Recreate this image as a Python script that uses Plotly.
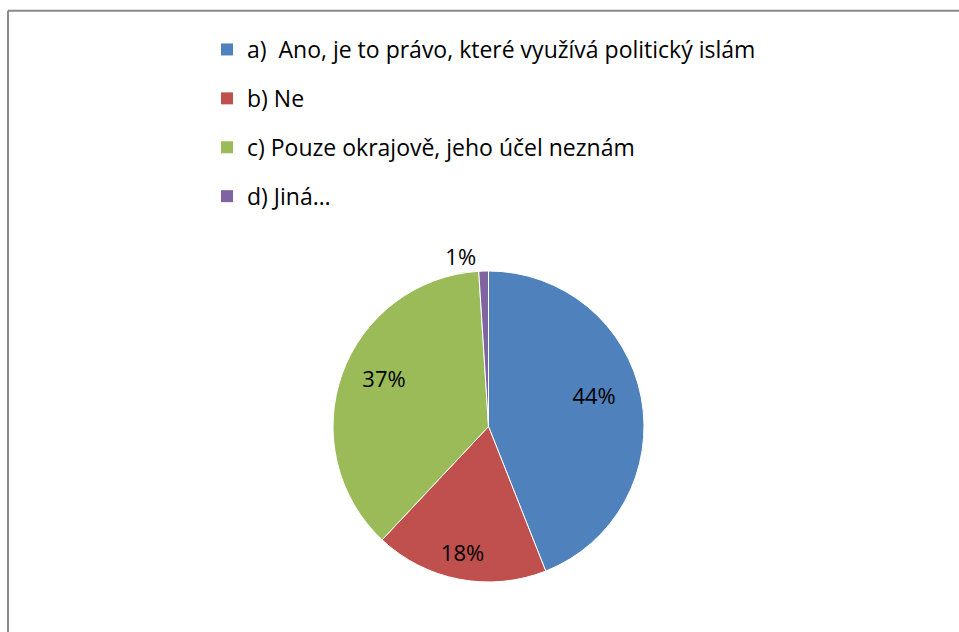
import plotly.graph_objects as go

# survey answers and their shares (%)
labels = [
    "a)  Ano, je to právo, které využívá politický islám",
    "b) Ne",
    "c) Pouze okrajově, jeho účel neznám",
    "d) Jiná…",
]
values = [44, 18, 37, 1]
colors = ["#4F81BD", "#C0504D", "#9BBB59", "#8064A2"]
inside_label = [True, True, True, False]

W, H = 959, 632
FONT = "Open Sans, Calibri, Carlito, sans-serif"
FS = 22
LFS = 23

cx, cy, r = 488.5, 426.5, 155.5   # pie centre / radius in pixels
lcy = 415.5                         # centre of the label ring (text sits a bit higher)


def dom(x0, y0, rad):
    return dict(x=[(x0 - rad) / W, (x0 + rad) / W], y=[1 - (y0 + rad) / H, 1 - (y0 - rad) / H])


fig = go.Figure()

# the coloured pie, carries the small outside label
fig.add_trace(go.Pie(
    labels=labels, values=values, sort=False, direction="clockwise", rotation=0,
    marker=dict(colors=colors, line=dict(color="white", width=1)),
    texttemplate="%{percent:.0%}",
    textposition=["none" if s else "outside" for s in inside_label],
    textfont=dict(family=FONT, size=FS, color="black"),
    showlegend=False, hoverinfo="label+percent",
    domain=dom(cx, cy, r),
))

# transparent pie used only to place the inside labels further out, like Excel's best fit
fig.add_trace(go.Pie(
    labels=labels, values=values, sort=False, direction="clockwise", rotation=0,
    marker=dict(colors=["rgba(0,0,0,0)"] * len(values), line=dict(width=0)),
    texttemplate="%{percent:.0%}",
    textposition=["inside" if s else "none" for s in inside_label],
    insidetextorientation="horizontal",
    textfont=dict(family=FONT, size=FS, color="black"),
    showlegend=False, hoverinfo="skip",
    domain=dom(cx, lcy, min(H - lcy, r * 1.37)),
))

# legend entries, one group each so the row spacing can be set
for i, (lab, col) in enumerate(zip(labels, colors)):
    fig.add_trace(go.Scatter(
        x=[None], y=[None], mode="markers", name=lab, legendgroup=f"g{i}",
        marker=dict(symbol="square", size=13, color=col),
    ))

fig.update_layout(
    width=W, height=H,
    margin=dict(l=0, r=0, t=0, b=0),
    paper_bgcolor="white", plot_bgcolor="white",
    font=dict(family=FONT, size=LFS, color="black"),
    xaxis=dict(visible=False), yaxis=dict(visible=False),
    legend=dict(
        x=207 / W, y=1 - 28 / H, xanchor="left", yanchor="top",
        orientation="v", tracegroupgap=16, itemsizing="constant",
        font=dict(family=FONT, size=LFS, color="black"),
        bgcolor="rgba(0,0,0,0)",
    ),
    shapes=[
        dict(type="line", xref="paper", yref="paper", x0=8 / W, x1=1, y0=1 - 10.8 / H, y1=1 - 10.8 / H,
             line=dict(color="#898989", width=2)),
        dict(type="line", xref="paper", yref="paper", x0=8 / W, x1=8 / W, y0=0, y1=1 - 10.8 / H,
             line=dict(color="#898989", width=2)),
    ],
)

# drop the page's default body margin so the figure fills the window exactly
fig.write_html(
    "out.html",
    config={"displayModeBar": False},
    post_script="document.body.style.margin='0';document.body.style.overflow='hidden';",
)
